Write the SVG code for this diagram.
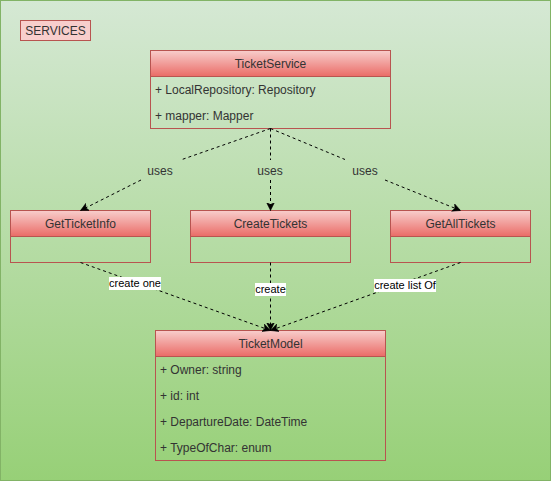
<svg xmlns="http://www.w3.org/2000/svg" width="551" height="481" viewBox="0 0 551 481">
<defs>
<linearGradient id="bg" x1="0" y1="0" x2="0" y2="1">
<stop offset="0" stop-color="#d5e8d4"/>
<stop offset="1" stop-color="#97d077"/>
</linearGradient>
<linearGradient id="hd" x1="0" y1="0" x2="0" y2="1">
<stop offset="0" stop-color="#f8cecc"/>
<stop offset="1" stop-color="#ea6b66"/>
</linearGradient>
<marker id="arr" markerWidth="10" markerHeight="10" refX="8" refY="4" orient="auto" markerUnits="userSpaceOnUse">
<path d="M0,0 L8,4 L0,8 L2,4 Z" fill="#000" stroke="#000" stroke-width="0.5"/>
</marker>
<style>
text{font-family:"Liberation Sans",Arial,sans-serif;font-size:12px;fill:#333333}
.hdr{fill:url(#hd);stroke:#b85450;stroke-width:1}
.box{fill:none;stroke:#b85450;stroke-width:1}
.c{text-anchor:middle}
.e{fill:none;stroke:#000;stroke-width:1;stroke-dasharray:3 3}
.lb{fill:#ffffff}
.lt{fill:#000000;text-anchor:middle;font-size:11px}
</style>
</defs>
<rect x="0.5" y="0.5" width="550" height="480" fill="url(#bg)" stroke="#82b366"/>
<g id="services">
<rect x="20.5" y="20.5" width="70" height="20" fill="#f8cecc" stroke="#b85450"/>
<text x="55.5" y="35" class="c">SERVICES</text>
</g>
<g id="ticketservice">
<rect x="150.5" y="50.5" width="240" height="78" class="box"/>
<rect x="150.5" y="50.5" width="240" height="26" class="hdr"/>
<text x="270.5" y="68" class="c">TicketService</text>
<text x="155" y="94">+ LocalRepository: Repository</text>
<text x="155" y="120">+ mapper: Mapper</text>
</g>
<g id="getticketinfo">
<rect x="10.5" y="210.5" width="140" height="52" class="box"/>
<rect x="10.5" y="210.5" width="140" height="26" class="hdr"/>
<text x="80.5" y="228" class="c">GetTicketInfo</text>
</g>
<g id="createtickets">
<rect x="190.5" y="210.5" width="160" height="52" class="box"/>
<rect x="190.5" y="210.5" width="160" height="26" class="hdr"/>
<text x="270.5" y="228" class="c">CreateTickets</text>
</g>
<g id="getalltickets">
<rect x="390.5" y="210.5" width="140" height="52" class="box"/>
<rect x="390.5" y="210.5" width="140" height="26" class="hdr"/>
<text x="460.5" y="228" class="c">GetAllTickets</text>
</g>
<g id="ticketmodel">
<rect x="155.5" y="330.5" width="230" height="130" class="box"/>
<rect x="155.5" y="330.5" width="230" height="26" class="hdr"/>
<text x="270.5" y="348" class="c">TicketModel</text>
<text x="160" y="374">+ Owner: string</text>
<text x="160" y="400">+ id: int</text>
<text x="160" y="426">+ DepartureDate: DateTime</text>
<text x="160" y="452">+ TypeOfChar: enum</text>
</g>
<g id="connectors">
<path class="e" d="M270.5,128.5 L182,159.5"/>
<path class="e" d="M141,180 L80.5,210.5" marker-end="url(#arr)"/>
<text x="160" y="175" class="c">uses</text>
<path class="e" d="M270.5,128.5 L270.5,160"/>
<path class="e" d="M270.5,180 L270.5,210.5" marker-end="url(#arr)"/>
<text x="270" y="175" class="c">uses</text>
<path class="e" d="M270.5,128.5 L345,159.5"/>
<path class="e" d="M385,180 L460.5,210.5" marker-end="url(#arr)"/>
<text x="365" y="175" class="c">uses</text>
<path class="e" d="M80.5,262.5 L270.5,330.5" marker-end="url(#arr)"/>
<path class="e" d="M270.5,262.5 L270.5,330.5" marker-end="url(#arr)"/>
<path class="e" d="M460.5,262.5 L270.5,330.5" marker-end="url(#arr)"/>
<rect x="109" y="277" width="52" height="13" class="lb"/>
<text x="135" y="287" class="lt">create one</text>
<rect x="255" y="283" width="31" height="13" class="lb"/>
<text x="270.5" y="293" class="lt">create</text>
<rect x="374" y="279" width="62" height="13" class="lb"/>
<text x="405" y="289" class="lt">create list Of</text>
</g>
</svg>
